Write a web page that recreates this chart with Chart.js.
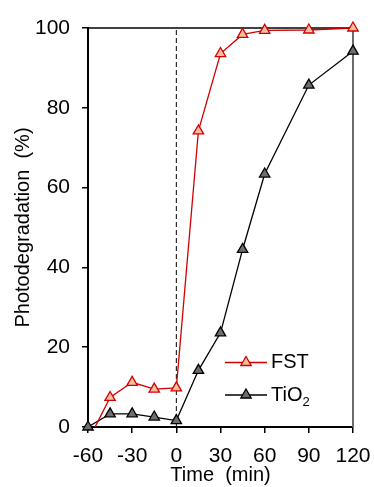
<!DOCTYPE html>
<html><head><meta charset="utf-8">
<script src="https://cdn.jsdelivr.net/npm/chart.js@4/dist/chart.umd.min.js"></script>
<style>html,body{margin:0;padding:0;background:#fff}#wrap{width:374px;height:487px;position:relative}</style>
</head><body><div id="wrap"><canvas id="c" width="374" height="487"></canvas></div>
<script>
const times = [-60, -45, -30, -15, 0, 15, 30, 45, 60, 90, 120];
const fstValues = [-3.5, 7.4, 11.2, 9.5, 9.8, 74.2, 93.6, 98.4, 99.4, 99.5, 100];
const tio2Values = [0, 3.3, 3.3, 2.5, 1.6, 14.2, 23.6, 44.5, 63.4, 85.7, 94.2];
const xTicks = [-60, -30, 0, 30, 60, 90, 120];
const yTicks = [0, 20, 40, 60, 80, 100];
const lightOnLine = [{x: 0, y: 0}, {x: 0, y: 100}];

const FONT = "'Liberation Sans', Arial, sans-serif";
const toXY = (vals) => times.map((t, i) => ({x: t, y: vals[i]}));

const frame = {
  id: 'frame',
  beforeDatasetsDraw(chart) {
    const {ctx, chartArea: a} = chart;
    ctx.save();
    ctx.strokeStyle = '#000'; ctx.lineWidth = 1.3;
    ctx.beginPath(); ctx.moveTo(a.left, a.top); ctx.lineTo(a.right, a.top); ctx.stroke();
    ctx.strokeStyle = '#6b6b6b'; ctx.lineWidth = 2;
    ctx.beginPath(); ctx.moveTo(a.right, a.top); ctx.lineTo(a.right, a.bottom); ctx.stroke();
    ctx.restore();
  }
};

const legend = {
  id: 'customLegend',
  afterDraw(chart) {
    const {ctx} = chart;
    const entries = [
      {ds: chart.data.datasets[0], y: 362.5, parts: [['FST', 0]]},
      {ds: chart.data.datasets[1], y: 395, parts: [['TiO', 0], ['2', 1]]}
    ];
    ctx.save();
    entries.forEach(e => {
      ctx.strokeStyle = e.ds.borderColor; ctx.lineWidth = e.ds.borderWidth;
      ctx.beginPath(); ctx.moveTo(225, e.y); ctx.lineTo(267, e.y); ctx.stroke();
      ctx.fillStyle = e.ds.pointBackgroundColor; ctx.strokeStyle = e.ds.pointBorderColor; ctx.lineWidth = e.ds.pointBorderWidth;
      ctx.beginPath();
      const r = e.ds.pointRadius;
      ctx.moveTo(246, e.y - r);
      ctx.lineTo(246 + r * Math.sin(2*Math.PI/3), e.y - r * Math.cos(2*Math.PI/3));
      ctx.lineTo(246 + r * Math.sin(4*Math.PI/3), e.y - r * Math.cos(4*Math.PI/3));
      ctx.closePath(); ctx.fill(); ctx.stroke();
      let x = 271;
      ctx.fillStyle = '#000'; ctx.textBaseline = 'middle'; ctx.textAlign = 'left';
      e.parts.forEach(([txt, sub]) => {
        ctx.font = (sub ? '13px ' : '20px ') + FONT;
        ctx.fillText(txt, x, e.y + (sub ? 7 : 0));
        x += ctx.measureText(txt).width;
      });
    });
    ctx.restore();
  }
};

new Chart(document.getElementById('c'), {
  type: 'line',
  data: {
    datasets: [
      {label: 'FST', data: toXY(fstValues), borderColor: '#d20000', borderWidth: 1.3,
       pointStyle: 'triangle', pointRadius: 6, pointBackgroundColor: '#f9bf9f', pointBorderColor: '#d20000',
       pointBorderWidth: 1.3, clip: {left: 10, right: 12, top: 12, bottom: 0}, tension: 0},
      {label: 'TiO2', data: toXY(tio2Values), borderColor: '#000', borderWidth: 1.3,
       pointStyle: 'triangle', pointRadius: 6, pointBackgroundColor: '#6e6e6e', pointBorderColor: '#000',
       pointBorderWidth: 1.3, clip: false, tension: 0},
      {label: 'light', data: lightOnLine, borderColor: '#000', borderWidth: 1, borderDash: [5, 3],
       pointRadius: 0, clip: false}
    ]
  },
  options: {
    responsive: false, animation: false, devicePixelRatio: 1,
    layout: {padding: {top: 28, right: 21, left: 0, bottom: 0}},
    plugins: {legend: {display: false}, tooltip: {enabled: false}},
    scales: {
      x: {
        type: 'linear', min: -60, max: 120,
        afterBuildTicks: s => { s.ticks = xTicks.map(v => ({value: v})); },
        afterFit: s => { s.height = 60; s.paddingRight = 0; s.paddingLeft = 0; },
        border: {color: '#000', width: 2},
        grid: {drawOnChartArea: false, tickLength: 6, color: '#000', lineWidth: 1.5},
        ticks: {color: '#000', font: {family: FONT, size: 21}, padding: 11, maxRotation: 0},
        title: {display: true, text: 'Time  (min)', color: '#000', font: {family: FONT, size: 20}, padding: {top: 0, bottom: 0}}
      },
      y: {
        min: 0, max: 100,
        afterBuildTicks: s => { s.ticks = yTicks.map(v => ({value: v})); },
        afterFit: s => { s.width = 88; s.paddingTop = 0; s.paddingBottom = 0; },
        border: {color: '#000', width: 2},
        grid: {drawOnChartArea: false, tickLength: 6, color: '#000', lineWidth: 1.5},
        ticks: {color: '#000', font: {family: FONT, size: 21}, padding: 12},
        title: {display: true, text: 'Photodegradation  (%)', color: '#000', font: {family: FONT, size: 20}, padding: {top: 11, bottom: 0}}
      }
    }
  },
  plugins: [frame, legend]
});
</script></body></html>
